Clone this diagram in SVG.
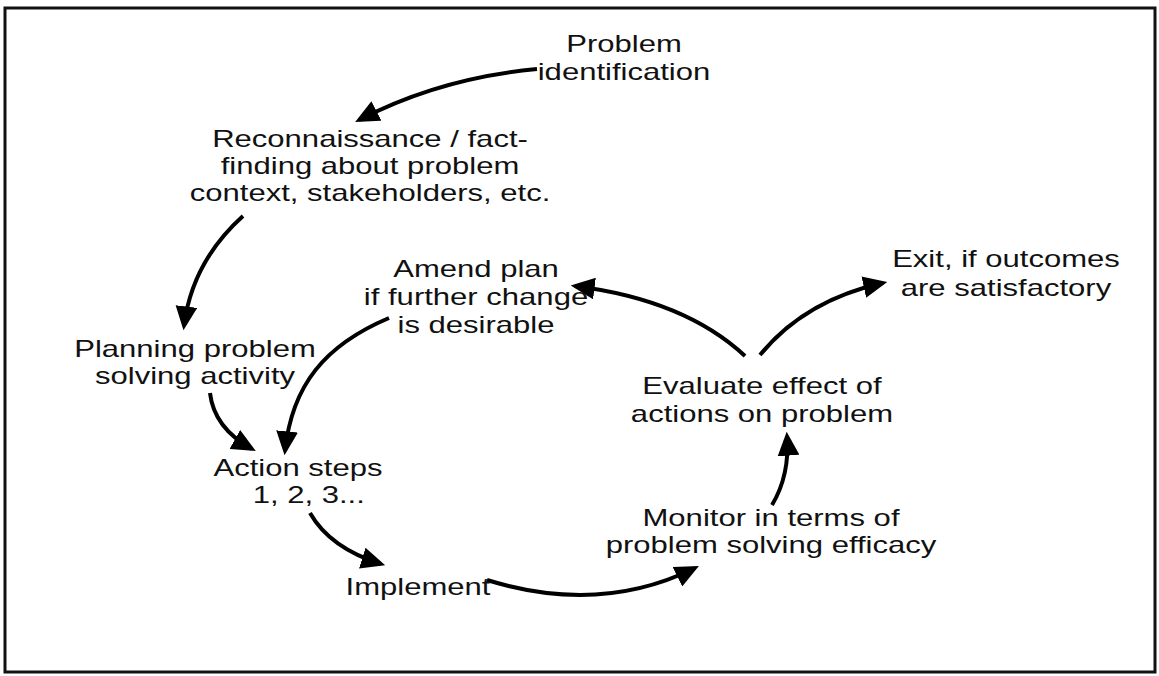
<svg xmlns="http://www.w3.org/2000/svg" width="1159" height="676" viewBox="0 0 1159 676">
<style>
.t{font-family:"Liberation Sans",Arial,sans-serif;font-size:23px;fill:#111;text-anchor:middle}
.c{fill:none;stroke:#000;stroke-width:4;marker-end:url(#ah)}
</style>
<defs>
<marker id="ah" markerUnits="userSpaceOnUse" markerWidth="24" markerHeight="22" refX="18" refY="10" orient="auto" viewBox="0 0 22 20">
<path d="M0,0 L22,10 L0,20 Z" fill="#000"/>
</marker>
</defs>
<rect x="5" y="8" width="1150" height="664" fill="#fff" stroke="#111" stroke-width="3"/>
<g id="connectors">
<path class="c" d="M537,69 Q440,78 359,120"/>
<path class="c" d="M243,216 Q192,262 184,326"/>
<path class="c" d="M210,393 Q214,428 252,449"/>
<path class="c" d="M389,318 C325,345 292,385 285,451"/>
<path class="c" d="M310,513 Q330,548 381,564"/>
<path class="c" d="M487,580 Q600,615 695,568"/>
<path class="c" d="M772,505 Q790,475 787,436"/>
<path class="c" d="M745,356 Q685,300 575,286"/>
<path class="c" d="M760,355 Q805,300 883,283"/>
</g>
<g id="n-problem"><text class="t" transform="translate(624,0) scale(1.35,1)"><tspan x="0" y="52">Problem</tspan><tspan x="0" y="80">identification</tspan></text></g>
<g id="n-recon"><text class="t" transform="translate(370,0) scale(1.35,1)"><tspan x="0" y="147">Reconnaissance / fact-</tspan><tspan x="0" y="174">finding about problem</tspan><tspan x="0" y="201">context, stakeholders, etc.</tspan></text></g>
<g id="n-planning"><text class="t" transform="translate(195,0) scale(1.35,1)"><tspan x="0" y="357">Planning problem</tspan><tspan x="0" y="384">solving activity</tspan></text></g>
<g id="n-amend"><text class="t" transform="translate(476,0) scale(1.35,1)"><tspan x="0" y="277">Amend plan</tspan><tspan x="0" y="305">if further change</tspan><tspan x="0" y="333">is desirable</tspan></text></g>
<g id="n-exit"><text class="t" transform="translate(1006,0) scale(1.35,1)"><tspan x="0" y="267">Exit, if outcomes</tspan><tspan x="0" y="296">are satisfactory</tspan></text></g>
<g id="n-evaluate"><text class="t" transform="translate(762,0) scale(1.35,1)"><tspan x="0" y="394">Evaluate effect of</tspan><tspan x="0" y="422">actions on problem</tspan></text></g>
<g id="n-action"><text class="t" transform="translate(298,0) scale(1.35,1)"><tspan x="0" y="476">Action steps</tspan><tspan x="8" y="503">1, 2, 3...</tspan></text></g>
<g id="n-monitor"><text class="t" transform="translate(771,0) scale(1.35,1)"><tspan x="0" y="526">Monitor in terms of</tspan><tspan x="0" y="553">problem solving efficacy</tspan></text></g>
<g id="n-implement"><text class="t" transform="translate(418,0) scale(1.35,1)"><tspan x="0" y="595">Implement</tspan></text></g>
</svg>
